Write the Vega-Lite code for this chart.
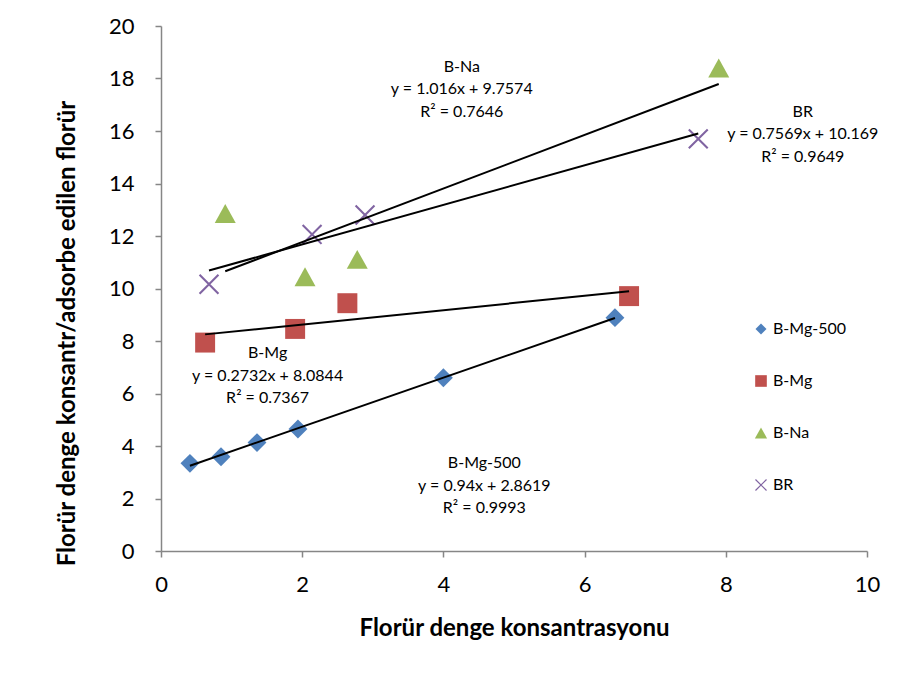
{
  "$schema": "https://vega.github.io/schema/vega-lite/v6.json",
  "width": 706,
  "height": 525,
  "autosize": {"type": "none"},
  "padding": {"left": 161, "top": 26, "right": 49, "bottom": 126},
  "background": "white",
  "config": {
    "font": "Lato",
    "view": {"stroke": null},
    "axis": {
      "domainColor": "#868686",
      "tickColor": "#868686",
      "domainWidth": 1.5,
      "tickWidth": 1.5,
      "tickSize": 6,
      "grid": false,
      "labelFlush": false,
      "labelFont": "Lato",
      "labelFontSize": 22,
      "labelColor": "black",
      "titleFont": "Lato",
      "titleFontSize": 24,
      "titleFontWeight": "bold",
      "titleColor": "black"
    }
  },
  "datasets": {
    "points": [
      {"series": "B-Mg-500", "x": 0.41, "y": 3.34},
      {"series": "B-Mg-500", "x": 0.85, "y": 3.59},
      {"series": "B-Mg-500", "x": 1.36, "y": 4.13},
      {"series": "B-Mg-500", "x": 1.94, "y": 4.65},
      {"series": "B-Mg-500", "x": 4.0, "y": 6.6},
      {"series": "B-Mg-500", "x": 6.43, "y": 8.89},
      {"series": "B-Mg", "x": 0.625, "y": 7.94},
      {"series": "B-Mg", "x": 1.9, "y": 8.46},
      {"series": "B-Mg", "x": 2.64, "y": 9.44},
      {"series": "B-Mg", "x": 6.63, "y": 9.71},
      {"series": "B-Na", "x": 0.91, "y": 12.86},
      {"series": "B-Na", "x": 2.04, "y": 10.45},
      {"series": "B-Na", "x": 2.78, "y": 11.11},
      {"series": "B-Na", "x": 7.9, "y": 18.4},
      {"series": "BR", "x": 0.68, "y": 10.16},
      {"series": "BR", "x": 2.14, "y": 12.06},
      {"series": "BR", "x": 2.89, "y": 12.8},
      {"series": "BR", "x": 7.61, "y": 15.7}
    ],
    "notes": [
      {"x": 4.26, "y": 18.45, "label": "B-Na"},
      {"x": 4.26, "y": 17.6, "label": "y = 1.016x + 9.7574"},
      {"x": 4.26, "y": 16.72, "label": "R² = 0.7646"},
      {"x": 9.09, "y": 16.74, "label": "BR"},
      {"x": 9.09, "y": 15.87, "label": "y = 0.7569x + 10.169"},
      {"x": 9.09, "y": 15.01, "label": "R² = 0.9649"},
      {"x": 1.51, "y": 7.53, "label": "B-Mg"},
      {"x": 1.51, "y": 6.67, "label": "y = 0.2732x + 8.0844"},
      {"x": 1.51, "y": 5.82, "label": "R² = 0.7367"},
      {"x": 4.58, "y": 3.34, "label": "B-Mg-500"},
      {"x": 4.58, "y": 2.48, "label": "y = 0.94x + 2.8619"},
      {"x": 4.58, "y": 1.62, "label": "R² = 0.9993"}
    ]
  },
  "encoding": {
    "x": {
      "field": "x",
      "type": "quantitative",
      "scale": {"domain": [0, 10], "nice": false, "zero": false},
      "axis": {"title": "Florür denge konsantrasyonu", "values": [0, 2, 4, 6, 8, 10], "labelPadding": 17, "titlePadding": 21}
    },
    "y": {
      "field": "y",
      "type": "quantitative",
      "scale": {"domain": [0, 20], "nice": false, "zero": false},
      "axis": {"title": "Florür denge konsantr/adsorbe edilen florür", "values": [0, 2, 4, 6, 8, 10, 12, 14, 16, 18, 20], "labelPadding": 21, "titlePadding": 29, "titleY": 307}
    }
  },
  "layer": [
    {
      "data": {"name": "points"},
      "mark": {"type": "point", "filled": true, "opacity": 1, "size": 441, "strokeWidth": 0},
      "encoding": {
        "color": {
          "field": "series",
          "type": "nominal",
          "scale": {"domain": ["B-Mg-500", "B-Mg", "B-Na", "BR"], "range": ["#4F81BD", "#C0504D", "#9BBB59", "#8064A2"]},
          "legend": {"title": null, "orient": "none", "legendX": 592, "legendY": 295, "labelFontSize": 16, "labelFont": "Lato", "labelColor": "black", "symbolSize": 150, "symbolOpacity": 1, "symbolStrokeWidth": 0, "rowPadding": 36, "padding": 0, "labelOffset": 4}
        },
        "shape": {
          "field": "series",
          "type": "nominal",
          "scale": {"domain": ["B-Mg-500", "B-Mg", "B-Na", "BR"], "range": [
            "M0,-0.9L0.9,0L0,0.9L-0.9,0Z",
            "M-0.95,-0.95L0.95,-0.95L0.95,0.95L-0.95,0.95Z",
            "M0,-0.9L1,0.9L-1,0.9Z",
            "M-0.83,-0.97L0.97,0.83L0.83,0.97L-0.97,-0.83ZM0.97,-0.83L-0.83,0.97L-0.97,0.83L0.83,-0.97Z"
          ]},
          "legend": {"title": null, "orient": "none", "legendX": 592, "legendY": 295, "labelFontSize": 16, "labelFont": "Lato", "labelColor": "black", "symbolSize": 150, "symbolOpacity": 1, "symbolStrokeWidth": 0, "rowPadding": 36, "padding": 0, "labelOffset": 4}
        }
      }
    },
    {
      "data": {"name": "points"},
      "transform": [{"regression": "y", "on": "x", "groupby": ["series"]}],
      "mark": {"type": "line", "color": "black", "strokeWidth": 2},
      "encoding": {"detail": {"field": "series", "type": "nominal"}}
    },
    {
      "data": {"name": "notes"},
      "mark": {"type": "text", "fontSize": 16, "font": "Lato", "align": "center", "baseline": "middle", "color": "black"},
      "encoding": {"text": {"field": "label", "type": "nominal"}}
    }
  ]
}
